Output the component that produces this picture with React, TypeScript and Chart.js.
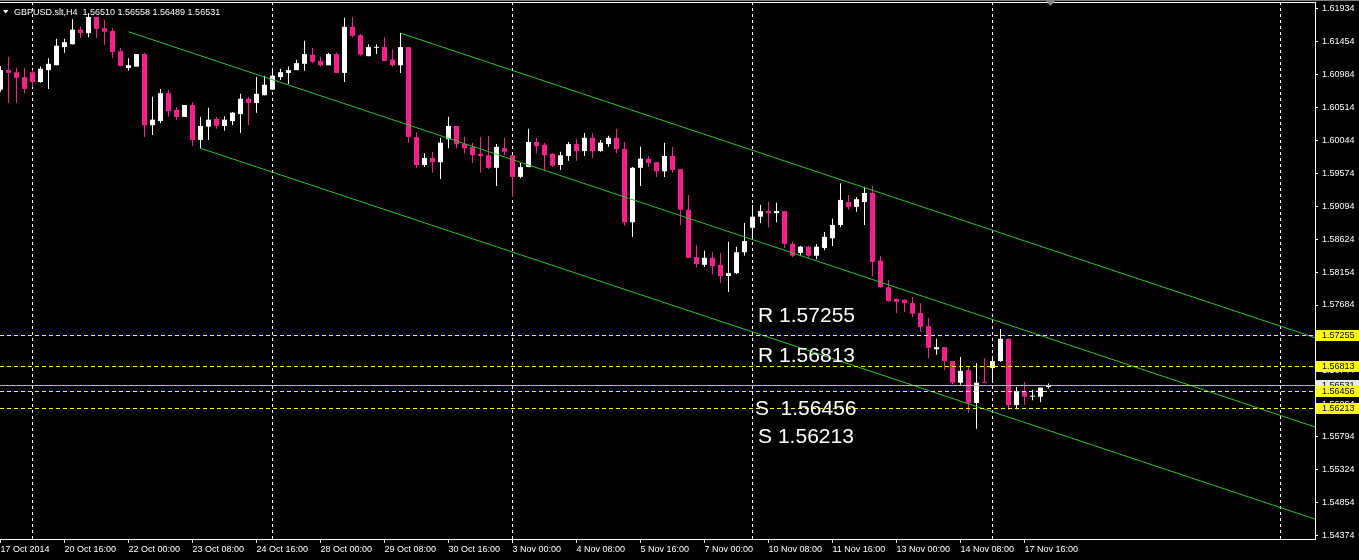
import React, { useEffect, useRef } from "react";
import { Chart, registerables } from "chart.js";

Chart.register(...registerables);

// ---- data (H4 bars, bar 0 = 20 Oct 2014 00:00) ----
const FIRST_BAR = -4;
const opens = [
  1.6077, 1.6105, 1.6102, 1.6095, 1.6102, 1.6088, 1.6105, 1.6112, 1.6138, 1.6142,
  1.6163, 1.6158, 1.6181, 1.6165, 1.6161, 1.6132, 1.6108, 1.6110, 1.6128, 1.6026,
  1.6032, 1.6072, 1.6048, 1.6038, 1.6055, 1.6005, 1.6024, 1.6035, 1.6025, 1.6032,
  1.6042, 1.6064, 1.6058, 1.6069, 1.6077, 1.6095, 1.6101, 1.6105, 1.6114, 1.6127,
  1.6118, 1.6112, 1.6128, 1.6101, 1.6167, 1.6155, 1.6125, 1.6137, 1.6138, 1.6120,
  1.6112, 1.6138, 1.6009, 1.5969, 1.5979, 1.5973, 1.6006, 1.6025, 1.5999, 1.5995,
  1.5985, 1.5983, 1.5965, 1.5993, 1.5983, 1.5952, 1.5966, 1.6002, 1.5998, 1.5985,
  1.5969, 1.5982, 1.5999, 1.5989, 1.6008, 1.5989, 1.5999, 1.6008, 1.5992, 1.5887,
  1.5965, 1.5978, 1.5973, 1.5960, 1.5982, 1.5963, 1.5905, 1.5837, 1.5826, 1.5836,
  1.5826, 1.5810, 1.5814, 1.5844, 1.5879, 1.5895, 1.5903, 1.5900, 1.5903, 1.5856,
  1.5843, 1.5852, 1.5839, 1.5850, 1.5864, 1.5883, 1.5916, 1.5909, 1.5916, 1.5929,
  1.5832, 1.5794, 1.5777, 1.5776, 1.5771, 1.5757, 1.5738, 1.5705, 1.5708, 1.5688,
  1.5657, 1.5675, 1.5628, 1.5658, 1.5678, 1.5688, 1.5720, 1.5625, 1.5644, 1.5637,
  1.5637, 1.56510,
];
const highs = [
  1.6111, 1.6124, 1.6108, 1.6108, 1.6105, 1.6110, 1.6122, 1.6150, 1.6150, 1.6178,
  1.6167, 1.6187, 1.6181, 1.6177, 1.6165, 1.6137, 1.6122, 1.6128, 1.6130, 1.6067,
  1.6078, 1.6077, 1.6052, 1.6055, 1.6059, 1.6038, 1.6051, 1.6038, 1.6039, 1.6045,
  1.6071, 1.6067, 1.6095, 1.6097, 1.6107, 1.6107, 1.6110, 1.6120, 1.6147, 1.6137,
  1.6124, 1.6130, 1.6130, 1.6180, 1.6181, 1.6157, 1.6142, 1.6142, 1.6152, 1.6135,
  1.6158, 1.6138, 1.6016, 1.5986, 1.5988, 1.6008, 1.6038, 1.6025, 1.6009, 1.6001,
  1.6009, 1.6011, 1.5999, 1.6008, 1.5983, 1.5972, 1.6021, 1.6008, 1.6001, 1.5986,
  1.5988, 1.6002, 1.6006, 1.6015, 1.6015, 1.6005, 1.6011, 1.6021, 1.6002, 1.5966,
  1.5995, 1.5982, 1.5973, 1.6001, 1.5995, 1.5963, 1.5926, 1.5854, 1.5846, 1.5844,
  1.5843, 1.5859, 1.5852, 1.5886, 1.5912, 1.5912, 1.5916, 1.5915, 1.5903, 1.5859,
  1.5853, 1.5853, 1.5856, 1.5873, 1.5892, 1.5943, 1.5926, 1.5923, 1.5938, 1.5939,
  1.5839, 1.5804, 1.5778, 1.5776, 1.5780, 1.5771, 1.5750, 1.5720, 1.5708, 1.5688,
  1.5694, 1.5680, 1.5685, 1.5692, 1.5692, 1.5734, 1.5720, 1.5651, 1.5658, 1.5647,
  1.5650, 1.56558,
];
const lows = [
  1.6074, 1.6058, 1.6058, 1.6072, 1.6081, 1.6087, 1.6078, 1.6112, 1.6130, 1.6142,
  1.6151, 1.6152, 1.6151, 1.6141, 1.6122, 1.6110, 1.6104, 1.6110, 1.6009, 1.6012,
  1.6029, 1.6038, 1.6034, 1.6038, 1.5996, 1.5993, 1.6005, 1.6021, 1.6018, 1.6026,
  1.6015, 1.6026, 1.6044, 1.6069, 1.6077, 1.6091, 1.6085, 1.6105, 1.6104, 1.6115,
  1.6110, 1.6112, 1.6101, 1.6088, 1.6152, 1.6125, 1.6125, 1.6128, 1.6118, 1.6110,
  1.6101, 1.6001, 1.5965, 1.5966, 1.5958, 1.5949, 1.5993, 1.5993, 1.5986, 1.5972,
  1.5958, 1.5963, 1.5939, 1.5983, 1.5923, 1.5950, 1.5966, 1.5986, 1.5962, 1.5966,
  1.5962, 1.5975, 1.5975, 1.5982, 1.5979, 1.5988, 1.5995, 1.5986, 1.5882, 1.5866,
  1.5939, 1.5966, 1.5952, 1.5952, 1.5958, 1.5883, 1.5836, 1.5822, 1.5823, 1.5813,
  1.5800, 1.5787, 1.5813, 1.5839, 1.5862, 1.5886, 1.5880, 1.5887, 1.5850, 1.5837,
  1.5839, 1.5837, 1.5834, 1.5847, 1.5853, 1.5880, 1.5905, 1.5902, 1.5883, 1.5810,
  1.5793, 1.5773, 1.5757, 1.5758, 1.5751, 1.5730, 1.5692, 1.5697, 1.5675, 1.5655,
  1.5654, 1.5614, 1.5591, 1.5657, 1.5657, 1.5687, 1.5618, 1.5619, 1.5625, 1.5632,
  1.5629, 1.56489,
];
const closes = [
  1.6105, 1.6101, 1.6094, 1.6078, 1.6088, 1.6107, 1.6114, 1.6140, 1.6145, 1.6163,
  1.6158, 1.6181, 1.6164, 1.6160, 1.6131, 1.6111, 1.6112, 1.6128, 1.6026, 1.6034,
  1.6072, 1.6046, 1.6038, 1.6055, 1.6005, 1.6025, 1.6034, 1.6025, 1.6034, 1.6044,
  1.6064, 1.6058, 1.6071, 1.6084, 1.6097, 1.6102, 1.6105, 1.6115, 1.6128, 1.6117,
  1.6112, 1.6128, 1.6101, 1.6167, 1.6154, 1.6127, 1.6138, 1.6138, 1.6118, 1.6112,
  1.6138, 1.6009, 1.5969, 1.5979, 1.5973, 1.6001, 1.6025, 1.5999, 1.5993, 1.5983,
  1.5982, 1.5965, 1.5995, 1.5988, 1.5952, 1.5966, 1.6002, 1.5996, 1.5983, 1.5968,
  1.5983, 1.5999, 1.5989, 1.6008, 1.5989, 1.6001, 1.6008, 1.5992, 1.5887, 1.5965,
  1.5978, 1.5972, 1.5960, 1.5982, 1.5962, 1.5905, 1.5836, 1.5827, 1.5836, 1.5824,
  1.5810, 1.5814, 1.5844, 1.5860, 1.5895, 1.5903, 1.5900, 1.5903, 1.5856, 1.5839,
  1.5852, 1.5839, 1.5852, 1.5866, 1.5883, 1.5919, 1.5909, 1.5920, 1.5929, 1.5830,
  1.5794, 1.5774, 1.5773, 1.5771, 1.5756, 1.5737, 1.5707, 1.5708, 1.5688, 1.5657,
  1.5674, 1.5628, 1.5657, 1.5657, 1.5688, 1.5720, 1.5625, 1.5645, 1.5637, 1.5638,
  1.5650, 1.56531,
];

// time axis
const timeLabelBars = [-4, 4, 12, 20, 28, 36, 44, 52, 60, 68, 76, 84, 92, 100, 108, 116, 124];
const timeLabels = [
  "17 Oct 2014", "20 Oct 16:00", "22 Oct 00:00", "23 Oct 08:00", "24 Oct 16:00",
  "28 Oct 00:00", "29 Oct 08:00", "30 Oct 16:00", "3 Nov 00:00", "4 Nov 08:00",
  "5 Nov 16:00", "7 Nov 00:00", "10 Nov 08:00", "11 Nov 16:00", "13 Nov 00:00",
  "14 Nov 08:00", "17 Nov 16:00",
];
const weekGridBars = [0, 30, 60, 90, 120, 156];

// price axis
const priceTicks = [
  1.61934, 1.61454, 1.60984, 1.60514, 1.60044, 1.59574, 1.59094, 1.58624, 1.58154,
  1.57684, 1.57214, 1.56744, 1.56264, 1.55794, 1.55324, 1.54854, 1.54374,
];
const X_MIN = -4.0625;
const X_MAX = 160.3125;
const Y_MIN = 1.54331;
const Y_MAX = 1.62026;

// levels
const srLevels = [1.57255, 1.56813, 1.56456, 1.56213];
const bidPrice = 1.56531;

// equidistant channel (three parallel rays)
const channelStartBars = [12, 46, 21];
const channelStartPrices = [1.616, 1.6158, 1.5993];
const channelEndBar = 161;
const channelEndPrices = [1.5591, 1.5719, 1.5459];

// text objects
const noteTexts = ["R 1.57255", "R 1.56813", "S  1.56456", "S 1.56213"];
const noteBars = [90.7, 90.7, 90.3, 90.7];
const notePrices = [1.5744, 1.5687, 1.5611, 1.5571];

const titleText = "GBPUSD.slt,H4  1.56510 1.56558 1.56489 1.56531";

const BULL = "#FFFFFF";
const BEAR = "#FA1E8C";
const GREEN = "#25C825";
const FONT = '"Liberation Sans", Arial, sans-serif';

const overlayPlugin = {
  id: "mtOverlay",
  afterDatasetsDraw(chart: any) {
    const { ctx, chartArea: a, scales } = chart;
    const ys = scales.y;
    const xs = scales.x;
    ctx.save();
    ctx.beginPath();
    ctx.rect(a.left, a.top, a.right - a.left, a.bottom - a.top);
    ctx.clip();
    ctx.lineWidth = 1;
    // bid line
    const yb = Math.round(ys.getPixelForValue(bidPrice)) + 0.5;
    ctx.strokeStyle = "#B4B4BC";
    ctx.setLineDash([]);
    ctx.beginPath();
    ctx.moveTo(a.left, yb);
    ctx.lineTo(a.right, yb);
    ctx.stroke();
    // S/R dashed lines
    ctx.strokeStyle = "#FFFF00";
    ctx.setLineDash([4, 3]);
    srLevels.forEach((v) => {
      const y = Math.round(ys.getPixelForValue(v)) + 0.5;
      ctx.beginPath();
      ctx.moveTo(a.left, y);
      ctx.lineTo(a.right, y);
      ctx.stroke();
    });
    ctx.setLineDash([]);
    // text objects
    ctx.fillStyle = "#FFFFFF";
    ctx.font = `21px ${FONT}`;
    ctx.textAlign = "left";
    ctx.textBaseline = "alphabetic";
    noteTexts.forEach((t, k) => {
      ctx.fillText(t, xs.getPixelForValue(noteBars[k]), ys.getPixelForValue(notePrices[k]));
    });
    ctx.restore();
  },
  afterDraw(chart: any) {
    const { ctx, chartArea: a, scales } = chart;
    const ys = scales.y;
    ctx.save();
    // frame top
    ctx.fillStyle = "#7A7A7A";
    ctx.fillRect(0, 0, chart.width, 1);
    ctx.fillStyle = "#FFFFFF";
    ctx.fillRect(a.left, a.top, a.right - a.left + 1, 1);
    // shift marker
    ctx.fillStyle = "#8A8A8A";
    ctx.beginPath();
    ctx.moveTo(1046, 1);
    ctx.lineTo(1055, 1);
    ctx.lineTo(1050.5, 6);
    ctx.closePath();
    ctx.fill();
    // price labels with background
    ctx.font = `9px ${FONT}`;
    ctx.textAlign = "left";
    ctx.textBaseline = "middle";
    const boxL = a.right + 1;
    const drawBox = (v: number, bg: string) => {
      const py = Math.round(ys.getPixelForValue(v));
      ctx.fillStyle = bg;
      ctx.fillRect(boxL, py - 5, chart.width - boxL, 11);
      ctx.fillStyle = "#000000";
      ctx.fillText(v.toFixed(5), a.right + 7, py + 0.5);
    };
    drawBox(bidPrice, "#E8E8E8");
    srLevels.forEach((v) => drawBox(v, "#FFFF00"));
    // title
    ctx.fillStyle = "#FFFFFF";
    ctx.beginPath();
    ctx.moveTo(3, 10);
    ctx.lineTo(8.5, 10);
    ctx.lineTo(5.75, 13.5);
    ctx.closePath();
    ctx.fill();
    ctx.textBaseline = "alphabetic";
    ctx.fillText(titleText, 14, 15);
    ctx.restore();
  },
};

export default function App() {
  const ref = useRef<HTMLCanvasElement>(null);
  useEffect(() => {
    document.body.style.margin = "0";
    document.body.style.background = "#000";
    const bars = opens.map((_, k) => FIRST_BAR + k);
    const colors = opens.map((o, k) => (closes[k] >= o ? BULL : BEAR));
    const channelSets = channelStartBars.map((b, k) => ({
      type: "line" as const,
      data: [
        { x: b, y: channelStartPrices[k] },
        { x: channelEndBar, y: channelEndPrices[k] },
      ],
      borderColor: GREEN,
      borderWidth: 1,
      pointRadius: 0,
      tension: 0,
      fill: false,
      order: 0,
      xAxisID: "x",
      yAxisID: "y",
    }));
    const chart = new Chart(ref.current as HTMLCanvasElement, {
      type: "bar",
      data: {
        datasets: [
          ...channelSets,
          {
            type: "bar",
            data: bars.map((b, k) => ({ x: b, y: [opens[k], closes[k]] })),
            backgroundColor: colors,
            borderWidth: 0,
            barThickness: 5,
            minBarLength: 1,
            grouped: false,
            inflateAmount: 0,
            order: 1,
            xAxisID: "x",
            yAxisID: "y",
          },
          {
            type: "bar",
            data: bars.map((b, k) => ({ x: b, y: [lows[k], highs[k]] })),
            backgroundColor: colors,
            borderWidth: 0,
            barThickness: 1,
            minBarLength: 1,
            grouped: false,
            inflateAmount: 0,
            order: 2,
            xAxisID: "x",
            yAxisID: "y",
          },
        ] as any,
      },
      options: {
        responsive: false,
        maintainAspectRatio: false,
        animation: false,
        devicePixelRatio: 1,
        events: [],
        layout: { padding: { top: 2, left: 0, right: 0, bottom: 0 } },
        plugins: { legend: { display: false }, tooltip: { enabled: false }, title: { display: false } },
        scales: {
          x: {
            type: "linear",
            position: "bottom",
            min: X_MIN,
            max: X_MAX,
            offset: false,
            grid: {
              display: true,
              drawOnChartArea: false,
              drawTicks: true,
              tickLength: 4,
              color: "#FFFFFF",
              tickColor: "#FFFFFF",
              offset: false,
            },
            border: { display: true, color: "#FFFFFF", width: 1 },
            ticks: {
              color: "#FFFFFF",
              font: { family: FONT, size: 9 },
              align: "start",
              padding: 1,
              autoSkip: false,
              maxRotation: 0,
              minRotation: 0,
              callback: (_v: any, idx: number) => timeLabels[idx] ?? "",
            },
            afterBuildTicks: (s: any) => {
              s.ticks = timeLabelBars.map((v) => ({ value: v }));
            },
            afterFit: (s: any) => {
              s.height = 21;
              s.paddingLeft = 0;
              s.paddingRight = 0;
            },
          },
          xg: {
            type: "linear",
            axis: "x",
            position: "bottom",
            min: X_MIN,
            max: X_MAX,
            offset: false,
            grid: {
              display: true,
              drawOnChartArea: true,
              drawTicks: false,
              color: "#FFFFFF",
              lineWidth: 1,
              offset: false,
            },
            border: { display: false, dash: [3, 3] },
            ticks: { display: false },
            afterBuildTicks: (s: any) => {
              s.ticks = weekGridBars.map((v) => ({ value: v }));
            },
            afterFit: (s: any) => {
              s.height = 0;
              s.paddingLeft = 0;
              s.paddingRight = 0;
            },
          },
          y: {
            type: "linear",
            position: "right",
            min: Y_MIN,
            max: Y_MAX,
            grid: {
              display: true,
              drawOnChartArea: false,
              drawTicks: true,
              tickLength: 3,
              color: "#FFFFFF",
              tickColor: "#FFFFFF",
            },
            border: { display: true, color: "#FFFFFF", width: 1 },
            ticks: {
              color: "#FFFFFF",
              font: { family: FONT, size: 9 },
              padding: 4,
              autoSkip: false,
              callback: (v: any) => Number(v).toFixed(5),
            },
            afterBuildTicks: (s: any) => {
              s.ticks = priceTicks.map((v) => ({ value: v }));
            },
            afterFit: (s: any) => {
              s.width = 44;
              s.paddingTop = 0;
              s.paddingBottom = 0;
            },
          },
        } as any,
      },
      plugins: [overlayPlugin],
    });
    return () => chart.destroy();
  }, []);
  return (
    <div style={{ width: 1359, height: 560, background: "#000" }}>
      <canvas ref={ref} width={1359} height={560} style={{ display: "block", background: "#000" }} />
    </div>
  );
}
